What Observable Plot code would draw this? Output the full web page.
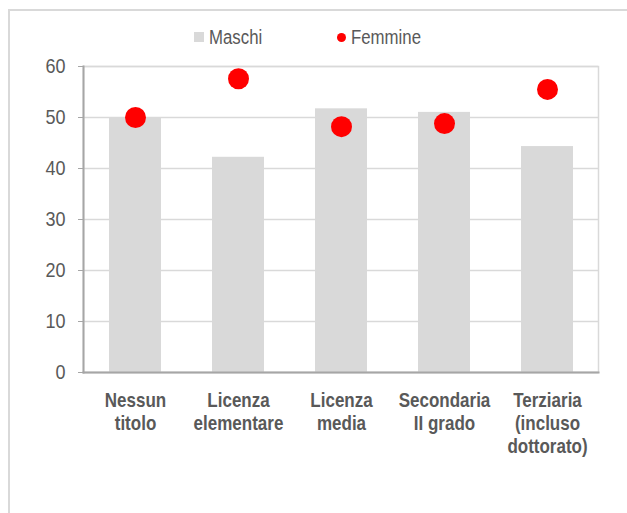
<!DOCTYPE html>
<html>
<head>
<meta charset="utf-8">
<script src="https://cdn.jsdelivr.net/npm/d3@7"></script>
<script src="https://cdn.jsdelivr.net/npm/@observablehq/plot@0.6"></script>
<style>
  html, body { margin: 0; padding: 0; background: #fff; overflow: hidden; }
  body { width: 627px; height: 513px; position: relative;
    font-family: "Liberation Sans", Arial, sans-serif; }
  #frame { position: absolute; left: 8px; top: 9px; width: 660px; height: 560px;
    border: 2px solid #d9d9d9; box-sizing: border-box; }
  #chart { position: absolute; left: 0; top: 0; }
  .legend { position: absolute; top: 27px; font-size: 20px; color: #595959; line-height: 20px;
    transform: scaleX(0.84); transform-origin: left center; white-space: nowrap; }
  .sw { position: absolute; }
</style>
</head>
<body>
<div id="frame"></div>
<div id="chart"></div>
<div class="sw" style="left:194px; top:32px; width:10px; height:10px; background:#d9d9d9;"></div>
<div class="legend" style="left:209px;">Maschi</div>
<div class="sw" style="left:336.5px; top:32.5px; width:9px; height:9px; border-radius:50%; background:#ff0000;"></div>
<div class="legend" style="left:351px;">Femmine</div>
<script>
const categories = ["Nessun titolo", "Licenza elementare", "Licenza media", "Secondaria II grado", "Terziaria (incluso dottorato)"];
const tickLabels = ["Nessun\ntitolo", "Licenza\nelementare", "Licenza\nmedia", "Secondaria\nII grado", "Terziaria\n(incluso\ndottorato)"];
const maschi = [50.0, 42.2, 51.7, 51.0, 44.3];
const femmine = [50.0, 57.6, 48.2, 48.8, 55.5];
const yTicks = [0, 10, 20, 30, 40, 50, 60];

const data = categories.map((c, i) => ({cat: c, m: maschi[i], f: femmine[i]}));
const labelOf = new Map(categories.map((c, i) => [c, tickLabels[i]]));

const chart = Plot.plot({
  width: 627,
  height: 513,
  marginTop: 66,
  marginBottom: 141,
  marginLeft: 83,
  marginRight: 29,
  style: {fontFamily: '"Liberation Sans", Arial, sans-serif', background: "transparent"},
  x: {domain: categories, paddingInner: 0.5, paddingOuter: 0.25, label: null},
  y: {domain: [0, 60], label: null},
  marks: [
    Plot.gridY(yTicks, {stroke: "#d9d9d9", strokeOpacity: 1, strokeWidth: 1.5}),
    Plot.frame({stroke: "#d9d9d9", strokeWidth: 1.5}),
    Plot.barY(data, {x: "cat", y: "m", fill: "#d9d9d9"}),
    Plot.dot(data, {x: "cat", y: "f", r: 10.5, fill: "#ff0000", stroke: null}),
    Plot.frame({anchor: "left", stroke: "#a6a6a6", strokeWidth: 2}),
    Plot.frame({anchor: "bottom", stroke: "#a6a6a6", strokeWidth: 2}),
    Plot.axisY(yTicks, {tickSize: 5, tickPadding: 13, stroke: "#a6a6a6", fontSize: 20, fill: "#595959"}),
    Plot.axisX({tickSize: 0, tickPadding: 18, fontSize: 21, fontWeight: "bold", fill: "#595959",
      lineHeight: 1.1, tickFormat: d => labelOf.get(d)})
  ]
});
// condense the tick labels (the reference uses a narrow typeface)
function condense(sel, k) {
  chart.querySelectorAll(sel).forEach(t => {
    const tr = t.getAttribute("transform");
    if (tr && tr.includes("translate")) {
      t.setAttribute("transform", tr + ` scale(${k},1)`);
    } else {
      const x = +(t.getAttribute("x") || 0), y = +(t.getAttribute("y") || 0);
      t.setAttribute("x", 0); t.setAttribute("y", 0);
      t.setAttribute("transform", (tr ? tr + " " : "") + `translate(${x},${y}) scale(${k},1)`);
    }
  });
}
condense('g[aria-label="x-axis tick label"] text', 0.81);
condense('g[aria-label="y-axis tick label"] text', 0.9);
document.getElementById("chart").appendChild(chart);
</script>
</body>
</html>
